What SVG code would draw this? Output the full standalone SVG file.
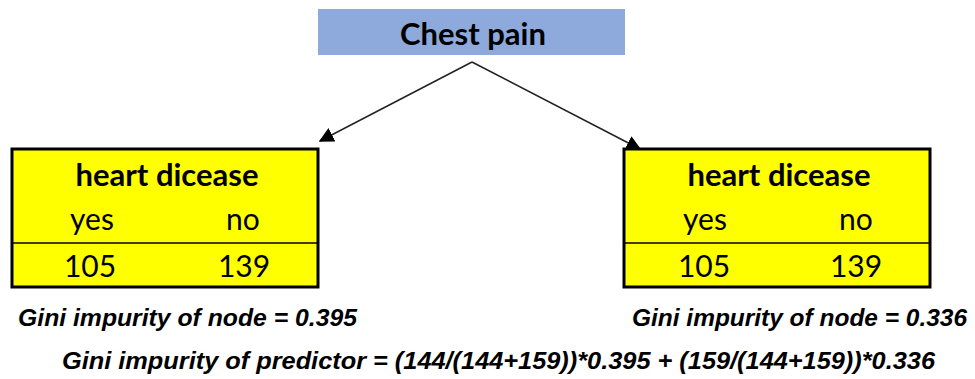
<svg xmlns="http://www.w3.org/2000/svg" width="975" height="379" viewBox="0 0 975 379">
  <style>
    .root { fill: #8EA9DB; }
    .leaf { fill: #FFFF00; stroke: #000; stroke-width: 3; }
    .div { stroke: #000; stroke-width: 1.5; }
    .t { font-family: Lato, "Open Sans", sans-serif; fill: #000; text-anchor: middle; }
    .title { font-size: 31px; font-weight: bold; }
    .cell { font-size: 30px; }
    .gini { font-family: "Liberation Sans", Arial, sans-serif; font-style: italic; font-weight: bold; font-size: 23px; fill: #000; }
    .edge { stroke: #222; stroke-width: 1.5; fill: none; marker-end: url(#arrow); }
  </style>
  <defs>
    <marker id="arrow" viewBox="0 0 10 10" refX="9" refY="5" markerWidth="15" markerHeight="15" markerUnits="userSpaceOnUse" orient="auto">
      <path d="M0,0 L10,5 L0,10 z" fill="#000"/>
    </marker>
  </defs>
  <rect width="975" height="379" fill="#fff"/>

  <g id="chest-pain">
    <rect class="root" x="318" y="9" width="307" height="46"/>
    <text class="t title" x="473" y="45">Chest pain</text>
  </g>

  <g id="connectors">
    <line class="edge" x1="472" y1="62" x2="320" y2="141"/>
    <line class="edge" x1="472" y1="62" x2="640" y2="149"/>
  </g>

  <g id="left-node">
    <rect class="leaf" x="12" y="149" width="306" height="138"/>
    <line class="div" x1="12" y1="243" x2="318" y2="243"/>
    <text class="t title" x="167" y="186">heart dicease</text>
    <text class="t cell" x="92" y="230">yes</text>
    <text class="t cell" x="243" y="230">no</text>
    <text class="t cell" x="90" y="277">105</text>
    <text class="t cell" x="244" y="277">139</text>
  </g>

  <g id="right-node">
    <rect class="leaf" x="624" y="149" width="306" height="138"/>
    <line class="div" x1="624" y1="243" x2="930" y2="243"/>
    <text class="t title" x="779" y="186">heart dicease</text>
    <text class="t cell" x="705" y="230">yes</text>
    <text class="t cell" x="856" y="230">no</text>
    <text class="t cell" x="704" y="277">105</text>
    <text class="t cell" x="856" y="277">139</text>
  </g>

  <g id="gini-labels">
    <text class="gini" x="18" y="326" textLength="339" lengthAdjust="spacingAndGlyphs">Gini impurity of node = 0.395</text>
    <text class="gini" x="632" y="326" textLength="335" lengthAdjust="spacingAndGlyphs">Gini impurity of node = 0.336</text>
    <text class="gini" x="62" y="369" textLength="873" lengthAdjust="spacingAndGlyphs">Gini impurity of predictor = (144/(144+159))*0.395 + (159/(144+159))*0.336</text>
  </g>
</svg>
